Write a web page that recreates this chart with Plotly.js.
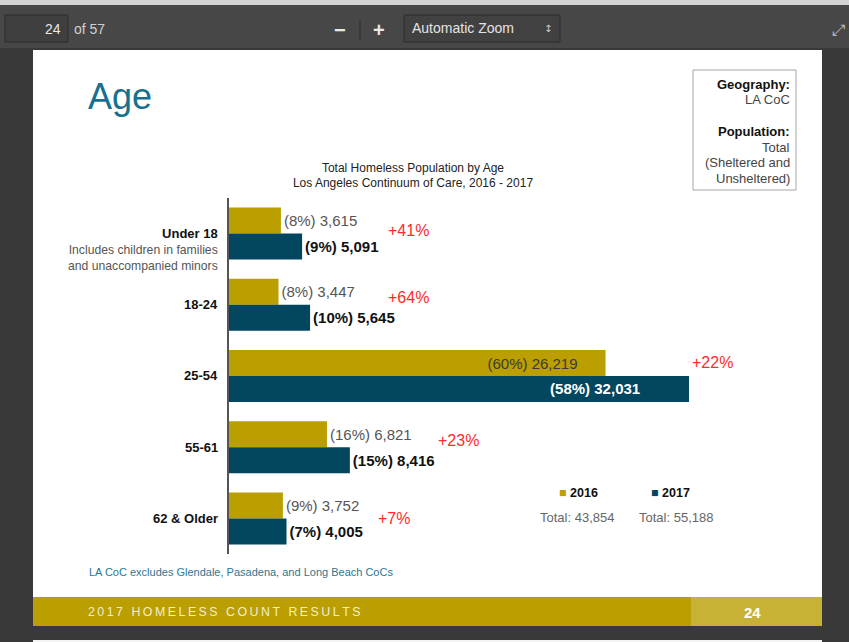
<!DOCTYPE html>
<html>
<head>
<meta charset="utf-8">
<script src="https://cdn.plot.ly/plotly-3.0.1.min.js"></script>
<style>
  html, body { margin: 0; padding: 0; background: #393939; }
  #chart { width: 849px; height: 642px; }
</style>
</head>
<body>
<div id="chart"></div>
<script>
// data
var ageGroups = ["Under 18", "18-24", "25-54", "55-61", "62 & Older"];
var groupNotes = ["Includes children in families<br>and unaccompanied minors", "", "", "", ""];
var pop2016 = [3615, 3447, 26219, 6821, 3752];
var pop2017 = [5091, 5645, 32031, 8416, 4005];
var share2016 = [8, 8, 60, 16, 9];
var share2017 = [9, 10, 58, 15, 7];
var changeLabels = ["+41%", "+64%", "+22%", "+23%", "+7%"];

var gold = "#bb9e00";
var teal = "#02475f";
var font = "Liberation Sans, Arial, sans-serif";

// helpers: page pixels -> paper coords
var W = 849, H = 642;
function px(x) { return x / W; }
function py(y) { return 1 - y / H; }

function fmt(n) { return n.toLocaleString("en-US"); }
function sum(a) { return a.reduce(function (s, v) { return s + v; }, 0); }
function nbsp(n) { return new Array(n + 1).join("\u00a0"); }

// the biggest group has its labels inside the bars, pulled back from the end
var biggest = pop2017.indexOf(Math.max.apply(null, pop2017));
var textPos = ageGroups.map(function (g, i) { return i === biggest ? "inside" : "outside"; });
var text2016 = pop2016.map(function (v, i) {
  return "(" + share2016[i] + "%) " + fmt(v) + (i === biggest ? nbsp(6) : "");
});
var text2017 = pop2017.map(function (v, i) {
  return "(" + share2017[i] + "%) " + fmt(v) + (i === biggest ? nbsp(11) : "");
});

var trace2016 = {
  type: "bar", orientation: "h", name: "2016",
  y: ageGroups, x: pop2016,
  marker: {color: gold},
  text: text2016, textposition: textPos, insidetextanchor: "end",
  textfont: {family: font, size: 15, color: "#555"},
  insidetextfont: {family: font, size: 15, color: "#3a3a3a"},
  outsidetextfont: {family: font, size: 15, color: "#555"},
  constraintext: "none", cliponaxis: false, hoverinfo: "none"
};
var trace2017 = {
  type: "bar", orientation: "h", name: "2017",
  y: ageGroups, x: pop2017,
  marker: {color: teal},
  text: text2017, textposition: textPos, insidetextanchor: "end",
  textfont: {family: font, size: 15, color: "#111", weight: "bold"},
  insidetextfont: {family: font, size: 15, color: "#fff", weight: "bold"},
  outsidetextfont: {family: font, size: 15, color: "#111", weight: "bold"},
  constraintext: "none", cliponaxis: false, hoverinfo: "none"
};

// pixel nudges for the red change labels
var changeShiftX = [84, 76, 1, 86, 89];
var changeShiftY = [3, 7, 13, 7, 0];

var annotations = [];
ageGroups.forEach(function (g, i) {
  var label = "<b style='font-size:13px;color:#111'>" + g + "</b>";
  var shift = 0;
  if (groupNotes[i]) {
    // note lines hang under the bold label
    label += "<br>" + groupNotes[i];
    shift = -15.5;
  }
  annotations.push({
    xref: "paper", yref: "y", x: px(219), y: g, xanchor: "right", yanchor: "middle",
    yshift: shift, align: "right", borderpad: 0,
    text: label, showarrow: false,
    font: {family: font, size: 12.2, color: "#555"}
  });
  annotations.push({
    xref: "x", yref: "y", x: pop2017[i], y: g, xanchor: "left", yanchor: "middle",
    xshift: changeShiftX[i], yshift: changeShiftY[i],
    text: changeLabels[i], showarrow: false,
    font: {family: font, size: 16, color: "#ff2b2b"}
  });
});

// info box, one annotation per line for the 16px spacing
var infoLines = ["<b style='color:#111'>Geography:</b>", "LA CoC", "",
  "<b style='color:#111'>Population:</b>", "Total", "(Sheltered and", "Unsheltered)"];
infoLines.forEach(function (t, k) {
  if (!t) return;
  annotations.push({
    xref: "paper", yref: "paper", x: px(791), y: py(84 + 15.8 * k), xanchor: "right", yanchor: "middle",
    text: t, showarrow: false, borderpad: 0, font: {family: font, size: 13, color: "#444"}
  });
});

annotations.push(
  // legend + totals
  {xref: "paper", yref: "paper", x: px(578), y: py(493), xanchor: "center", yanchor: "middle",
   text: "<span style='color:" + gold + "'>■</span> <b>2016</b>", showarrow: false,
   font: {family: font, size: 12.5, color: "#111"}},
  {xref: "paper", yref: "paper", x: px(670), y: py(493), xanchor: "center", yanchor: "middle",
   text: "<span style='color:" + teal + "'>■</span> <b>2017</b>", showarrow: false,
   font: {family: font, size: 12.5, color: "#111"}},
  {xref: "paper", yref: "paper", x: px(577), y: py(517), xanchor: "center", yanchor: "middle",
   text: "Total: " + fmt(sum(pop2016)), showarrow: false,
   font: {family: font, size: 13, color: "#666"}},
  {xref: "paper", yref: "paper", x: px(676), y: py(517), xanchor: "center", yanchor: "middle",
   text: "Total: " + fmt(sum(pop2017)), showarrow: false,
   font: {family: font, size: 13, color: "#666"}},
  // page heading
  {xref: "paper", yref: "paper", x: px(86), y: py(96), xanchor: "left", yanchor: "middle",
   text: "Age", showarrow: false, font: {family: font, size: 36, color: "#17708f"}},
  // footnote
  {xref: "paper", yref: "paper", x: px(87), y: py(572), xanchor: "left", yanchor: "middle",
   text: "LA CoC excludes Glendale, Pasadena, and Long Beach CoCs", showarrow: false,
   font: {family: font, size: 11, color: "#2b7794"}},
  // footer
  {xref: "paper", yref: "paper", x: px(86), y: py(612), xanchor: "left", yanchor: "middle",
   text: "2017 HOMELESS COUNT RESULTS".split("").join("\u2009"), showarrow: false,
   font: {family: font, size: 12.4, color: "#f4edcc"}},
  {xref: "paper", yref: "paper", x: px(752), y: py(612), xanchor: "center", yanchor: "middle",
   text: "<b>24</b>", showarrow: false, font: {family: font, size: 15, color: "#fff"}},
  // viewer toolbar
  {xref: "paper", yref: "paper", x: px(63), y: py(29), xanchor: "right", yanchor: "middle",
   text: "24", showarrow: false, font: {family: font, size: 14, color: "#e8e8e8"}},
  {xref: "paper", yref: "paper", x: px(72), y: py(29), xanchor: "left", yanchor: "middle",
   text: "of 57", showarrow: false, font: {family: font, size: 14, color: "#d0d0d0"}},
  {xref: "paper", yref: "paper", x: px(340), y: py(30), xanchor: "center", yanchor: "middle",
   text: "<b>\u2212</b>", showarrow: false, font: {family: font, size: 20, color: "#e8e8e8"}},
  {xref: "paper", yref: "paper", x: px(379), y: py(30), xanchor: "center", yanchor: "middle",
   text: "<b>+</b>", showarrow: false, font: {family: font, size: 20, color: "#e8e8e8"}},
  {xref: "paper", yref: "paper", x: px(410), y: py(28), xanchor: "left", yanchor: "middle",
   text: "Automatic Zoom", showarrow: false, font: {family: font, size: 14, color: "#e4e4e4"}},
  {xref: "paper", yref: "paper", x: px(548), y: py(28), xanchor: "center", yanchor: "middle",
   text: "\u2195", showarrow: false, font: {family: "DejaVu Sans", size: 10, color: "#ccc"}},
  {xref: "paper", yref: "paper", x: px(838), y: py(30), xanchor: "center", yanchor: "middle",
   text: "\u2922", showarrow: false, font: {family: "DejaVu Sans", size: 16, color: "#bbb"}}
);

function rect(x0, y0, x1, y1, fill, line) {
  return {type: "rect", xref: "paper", yref: "paper", layer: "below",
    x0: px(x0), x1: px(x1), y0: py(y1), y1: py(y0),
    fillcolor: fill, line: line || {width: 0}};
}

var shapes = [
  rect(0, 0, 849, 48, "#474747"),
  rect(0, 0, 849, 5, "#d4d4d4"),
  rect(33, 50, 822, 626, "#ffffff"),
  rect(33, 597, 691, 626, "#bb9e00"),
  rect(691, 597, 822, 626, "#c8b236"),
  rect(33, 640, 822, 642, "#f4f4f4"),
  rect(5, 15, 68, 42, "#3f3f3f", {color: "#2c2c2c", width: 1}),
  rect(404, 15, 560, 42, "#414141", {color: "#2c2c2c", width: 1}),
  rect(693, 70, 796, 190, "rgba(0,0,0,0)", {color: "#a6a6a6", width: 1}),
  {type: "line", xref: "paper", yref: "paper", layer: "below",
   x0: px(360), x1: px(360), y0: py(20), y1: py(40), line: {color: "#2c2c2c", width: 1}}
];

var layout = {
  width: W, height: H,
  margin: {l: 0, r: 0, t: 0, b: 0},
  paper_bgcolor: "#393939",
  plot_bgcolor: "rgba(0,0,0,0)",
  showlegend: false,
  barmode: "group", bargap: 0.27, bargroupgap: 0,
  title: {
    text: "Total Homeless Population by Age<br>Los Angeles Continuum of Care, 2016 - 2017",
    xref: "paper", yref: "paper", x: px(413), y: py(171.5),
    xanchor: "center", yanchor: "middle",
    font: {family: font, size: 12, color: "#222"}
  },
  xaxis: {
    domain: [px(229), px(821)], range: [0, 32031 * 592 / 460],
    visible: false, fixedrange: true
  },
  yaxis: {
    domain: [py(554), py(198)], range: [4.5, -0.5],
    showticklabels: false, showgrid: false, zeroline: false, ticks: "",
    showline: true, linecolor: "#555", linewidth: 2, fixedrange: true
  },
  annotations: annotations,
  shapes: shapes
};

Plotly.newPlot("chart", [trace2016, trace2017], layout, {staticPlot: true, displayModeBar: false});
</script>
</body>
</html>
